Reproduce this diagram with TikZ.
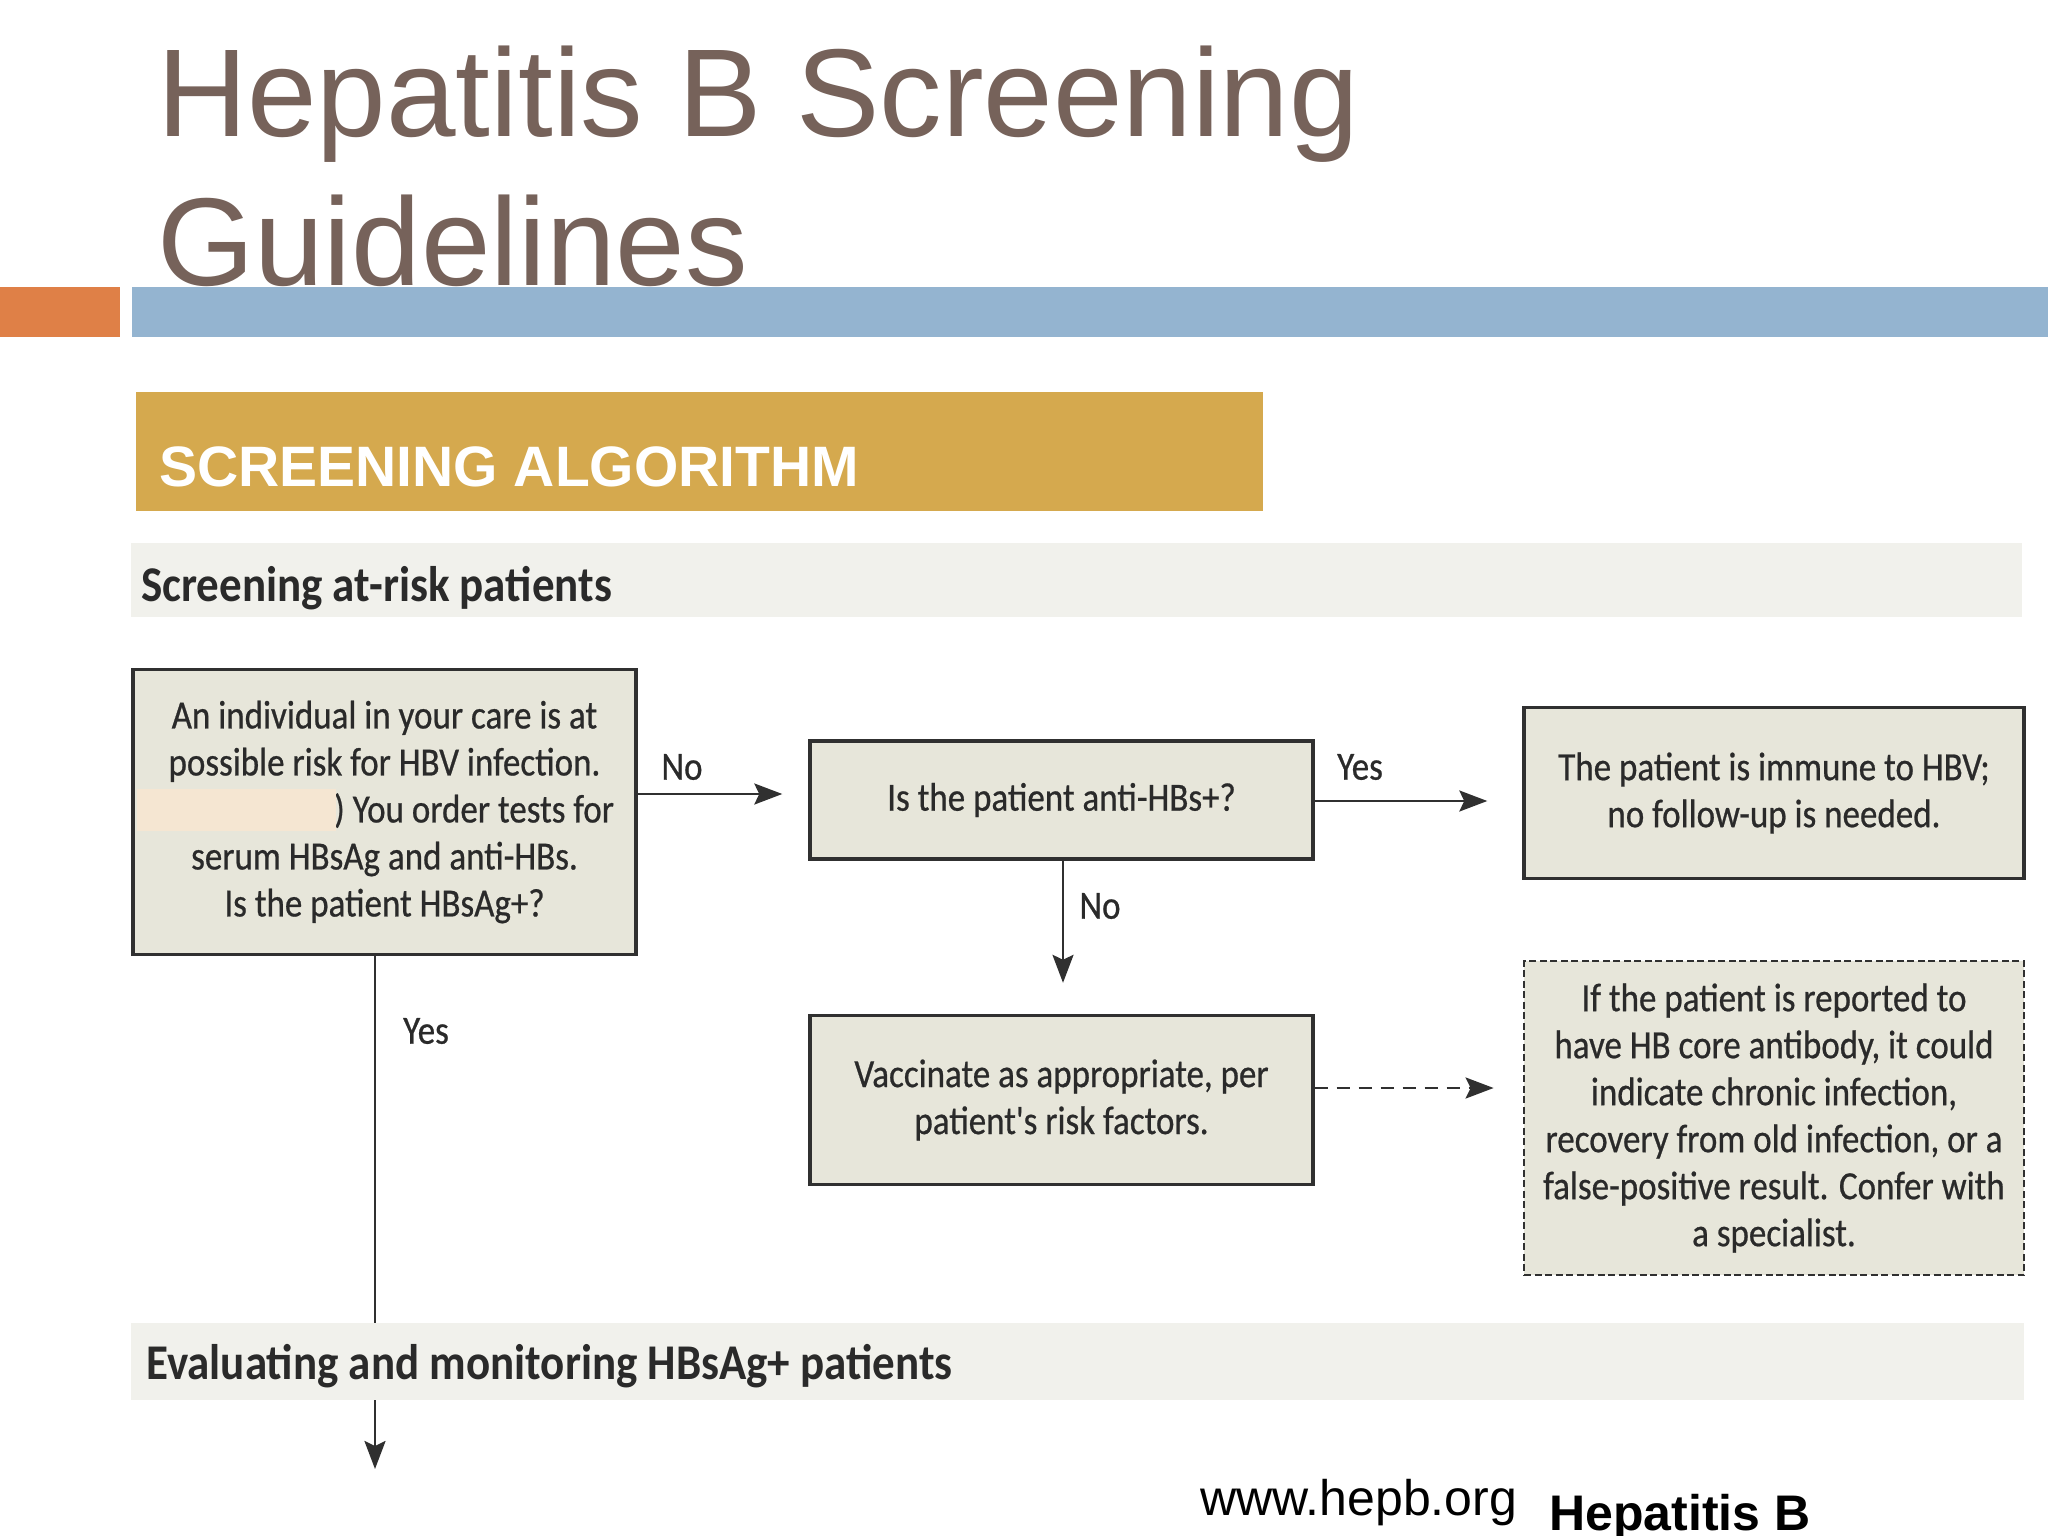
\documentclass[tikz,border=0pt]{standalone}
\usepackage{fontspec}
\setmainfont{Liberation Sans}
\newfontfamily\boxfont[FakeStretch=0.875,FakeBold=0.6]{Carlito}
\newfontfamily\bandfont[FakeStretch=0.9]{Carlito}
\usetikzlibrary{arrows.meta}
\definecolor{titlecol}{HTML}{76625A}
\definecolor{orangebar}{HTML}{DF8047}
\definecolor{bluebar}{HTML}{94B4D0}
\definecolor{goldcol}{HTML}{D5A94E}
\definecolor{bandcol}{HTML}{F1F1EC}
\definecolor{boxfill}{HTML}{E7E6DA}
\definecolor{boxline}{HTML}{303030}
\definecolor{txtcol}{HTML}{2A2A2A}
\definecolor{patchcol}{HTML}{F5E6D2}
\tikzset{
  titletext/.style={anchor=base west, inner sep=0pt, text=titlecol, font=\fontsize{125}{150}\selectfont},
  flowbox/.style={draw=boxline, line width=3.4pt, fill=boxfill, inner sep=0pt, align=center, text=txtcol,
     font=\boxfont\fontsize{40}{47}\selectfont},
  dashbox/.style={flowbox, line width=2.8pt, dash pattern=on 7pt off 3.5pt},
  band/.style={fill=bandcol, inner sep=0pt},
  bandtext/.style={anchor=base west, inner sep=0pt, text=txtcol, font=\bandfont\bfseries\fontsize{50}{60}\selectfont},
  lbl/.style={inner sep=0pt, text=txtcol, font=\boxfont\fontsize{40}{47}\selectfont},
  conn/.style={draw=boxline, line width=2.6pt, -{Stealth[length=28pt,width=21pt,inset=5pt]}},
}
\begin{document}
\begin{tikzpicture}[x=1pt,y=-1pt]
\useasboundingbox[fill=white] (0,0) rectangle (2048,1536);
% header bars
\fill[orangebar] (0,287) rectangle (120,337);
\fill[bluebar] (132,287) rectangle (2048,337);
\node[titletext] (t1) at (157,137) {Hepatitis B Screening};
\node[titletext] (t2) at (157,285) {Guidelines};
% banner
\node[fill=goldcol, minimum width=1127pt, minimum height=119pt, inner sep=0pt] (banner) at (699.5,451.5) {};
\node[anchor=base west, inner sep=0pt, text=white, font=\bfseries\fontsize{57}{68}\selectfont] (bannertxt) at (159,486) {SCREENING ALGORITHM};
% band 1
\node[band, minimum width=1891pt, minimum height=74pt] (band1) at (1076.5,580) {};
\node[bandtext] (band1txt) at (141,601) {Screening at-risk patients};
% boxes
\node[flowbox, minimum width=503pt, minimum height=285pt] (b1) at (384.5,812)
  {An individual in your care is at\\possible risk for HBV infection.\\\makebox[459pt][r]{) You order tests for}\\serum HBsAg and anti-HBs.\\Is the patient HBsAg+?};
\fill[patchcol] (137,789) rectangle (336,831);
\node[flowbox, minimum width=503pt, minimum height=118pt] (b2) at (1061.5,800) {Is the patient anti-HBs+?};
\node[flowbox, minimum width=500pt, minimum height=171pt] (b3) at (1774,793)
  {The patient is immune to HBV;\\no follow-up is needed.};
\node[flowbox, minimum width=503pt, minimum height=169pt] (b4) at (1061.5,1100)
  {Vaccinate as appropriate, per\\patient's risk factors.};
\node[dashbox, minimum width=500pt, minimum height=314pt] (b5) at (1774,1118)
  {If the patient is reported to\\have HB core antibody, it could\\indicate chronic infection,\\recovery from old infection, or a\\false-positive result. Confer with\\a specialist.};
% connectors
\draw[conn, shorten >=26pt] (b1.east |- 0,794) -- (b2.west |- 0,794);
\node[lbl] (lno1) at (682,767) {No};
\draw[conn, shorten >=35pt] (b2.east |- 0,801) -- (b3.west |- 0,801);
\node[lbl] (lyes1) at (1360,767) {Yes};
\draw[conn, shorten >=31pt] (b2.south -| 1063,0) -- (b4.north -| 1063,0);
\node[lbl] (lno2) at (1100,906) {No};
\draw[conn, dash pattern=on 13pt off 9pt, shorten >=29pt] (b4.east |- 0,1088) -- (b5.west |- 0,1088);
\coordinate (endY) at (375,1469);
\draw[conn] (b1.south -| endY) -- (endY);
\node[lbl] (lyes2) at (426,1031) {Yes};
% band 2
\node[band, minimum width=1893pt, minimum height=77pt] (band2) at (1077.5,1361.5) {};
\node[bandtext] (band2txt) at (146,1379) {Evaluating and monitoring HBsAg+ patients};
% footer
\node[anchor=base west, inner sep=0pt, font=\fontsize{50}{60}\selectfont] (url) at (1200,1515) {www.hepb.org};
\node[anchor=base west, inner sep=0pt, font=\bfseries\fontsize{50}{60}\selectfont] (hepb) at (1549,1530) {Hepatitis B};
\end{tikzpicture}
\end{document}
